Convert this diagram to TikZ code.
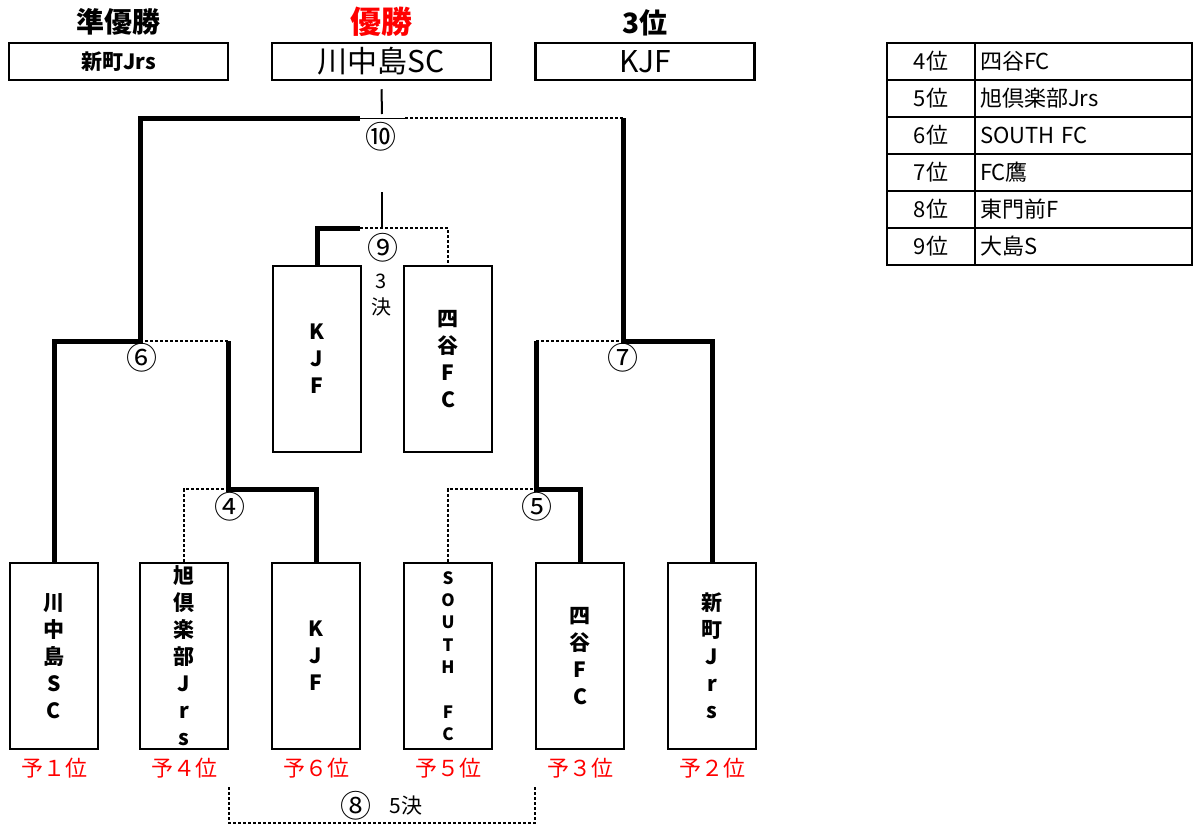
\documentclass[tikz,border=0pt]{standalone}
\usepackage{fontspec}
\setmainfont{Noto Sans CJK JP}
\begin{document}
\begin{tikzpicture}[x=1pt, y=-1pt,
    team/.style={draw, line width=2.5pt, minimum width=88pt, minimum height=186pt,
                 inner sep=0pt, align=center, font=\bfseries\fontsize{21}{27}\selectfont},
    result/.style={draw, line width=2.5pt, minimum width=219pt, minimum height=37pt, inner sep=0pt},
    seed/.style={red, font=\fontsize{22}{22}\selectfont},
    title/.style={font=\bfseries\fontsize{28}{28}\selectfont},
    num/.style={font=\fontsize{31}{31}\selectfont},
    win/.style={line width=5pt},
    lose/.style={line width=2pt, dash pattern=on 3pt off 2pt},
    link/.style={line width=2pt},
    cell/.style={draw, line width=2.5pt, minimum height=37pt, inner sep=0pt,
                 font=\fontsize{22}{22}\selectfont}]

    \useasboundingbox (0,0) rectangle (1194,825);

    % Final standings
    \node [title] (t2) at (118,22) {準優勝};
    \node [title, red, font=\bfseries\fontsize{31}{31}\selectfont] (t1) at (381,22) {優勝};
    \node [title] (t3) at (645,23) {3位};
    \node [result, font=\bfseries\fontsize{21}{21}\selectfont] (r2) at (118.5,61.5) {新町Jrs};
    \node [result, font=\fontsize{30}{30}\selectfont] (r1) at (381.5,61.5) {川中島SC};
    \node [result, font=\fontsize{30}{30}\selectfont] (r3) at (645,61.5) {KJF};

    % Teams and seeds
    \node [team] (b1) at (54,656) {川\\中\\島\\S\\C};
    \node [team] (b2) at (184,656) {旭\\倶\\楽\\部\\J\\r\\s};
    \node [team] (b3) at (316,656) {K\\J\\F};
    \node [team, font=\bfseries\fontsize{17}{22.3}\selectfont] (b4) at (448,656)
          {S\\O\\U\\T\\H\\[22.3pt]F\\C};
    \node [team] (b5) at (580,656) {四\\谷\\F\\C};
    \node [team] (b6) at (712,656) {新\\町\\J\\r\\s};

    \node [seed] (p1) at (54,768) {予１位};
    \node [seed] (p4) at (184,768) {予４位};
    \node [seed] (p6) at (316,768) {予６位};
    \node [seed] (p5) at (448,768) {予５位};
    \node [seed] (p3) at (580,768) {予３位};
    \node [seed] (p2) at (712,768) {予２位};

    % Third place
    \node [team] (k1) at (317,359) {K\\J\\F};
    \node [team] (k2) at (448,359) {四\\谷\\F\\C};

    % Junctions
    \coordinate (j4) at (228,489);
    \coordinate (j5) at (536,489);
    \coordinate (j6) at (140,341);
    \coordinate (j7) at (623,341);
    \coordinate (j9) at (382,228);
    \coordinate (j10) at (382,118);

    % Matches 4 and 6
    \draw [lose] (b2.north) |- (j4);
    \draw [win] (b3.north) |- (j4) -- (j4 |- j6);
    \draw [lose] (j4 |- j6) -- (j6);
    \draw [win] (b1.north) |- (j6) -- (j6 |- j10) -- ([xshift=-22pt]j10);

    % Matches 5 and 7
    \draw [lose] (b4.north) |- (j5);
    \draw [win] (b5.north) |- (j5) -- (j5 |- j7);
    \draw [lose] (j5 |- j7) -- (j7);
    \draw [win] (b6.north) |- (j7) -- (j7 |- j10);

    % Final
    \draw [line width=1pt] ([xshift=-22pt]j10) -- ([xshift=23pt]j10);
    \draw [lose] ([xshift=23pt]j10) -- (j7 |- j10);
    \draw [link] ([yshift=-8pt]r1.south) -- ([yshift=4pt]j10);

    % Match 9
    \draw [win] (k1.north) |- ([xshift=-22pt]j9);
    \draw [lose] ([xshift=-22pt]j9) -| (k2.north);
    \draw [link] ([yshift=36pt]j9) -- (j9);

    % Match 8
    \coordinate (k8) at (382,787);
    \coordinate (c8) at (382,823);
    \draw [lose] (b2.east |- k8) |- (c8) -| (b5.west |- k8);

    % Match numbers
    \node [num] (n10) at (381,137) {⑩};
    \node [num] (n9) at (383,248) {⑨};
    \node [font=\fontsize{20}{20}\selectfont] (d3) at (381,281) {3};
    \node [font=\fontsize{20}{20}\selectfont] (d4) at (381,307) {決};
    \node [num] (n6) at (142,358) {⑥};
    \node [num] (n7) at (623,358) {⑦};
    \node [num] (n4) at (230,507) {④};
    \node [num] (n5) at (537,507) {⑤};
    \node [num] (n8) at (356,806) {⑧};
    \node [font=\fontsize{21}{21}\selectfont] (d8) at (406,806) {5決};

    % Places 4 to 9
    \foreach \p/\name [count=\i] in {4位/四谷FC, 5位/旭倶楽部Jrs, 6位/SOUTH FC,
                                     7位/FC鷹, 8位/東門前F, 9位/大島S} {
      \node [cell, minimum width=88pt] (pl\i) at (931, 24.5+37*\i) {\p};
      \node [cell, minimum width=217pt, text width=207pt, align=left, inner xsep=5pt]
            (tm\i) at (1083.5, 24.5+37*\i) {\name};
    }
  \end{tikzpicture}
\end{document}
